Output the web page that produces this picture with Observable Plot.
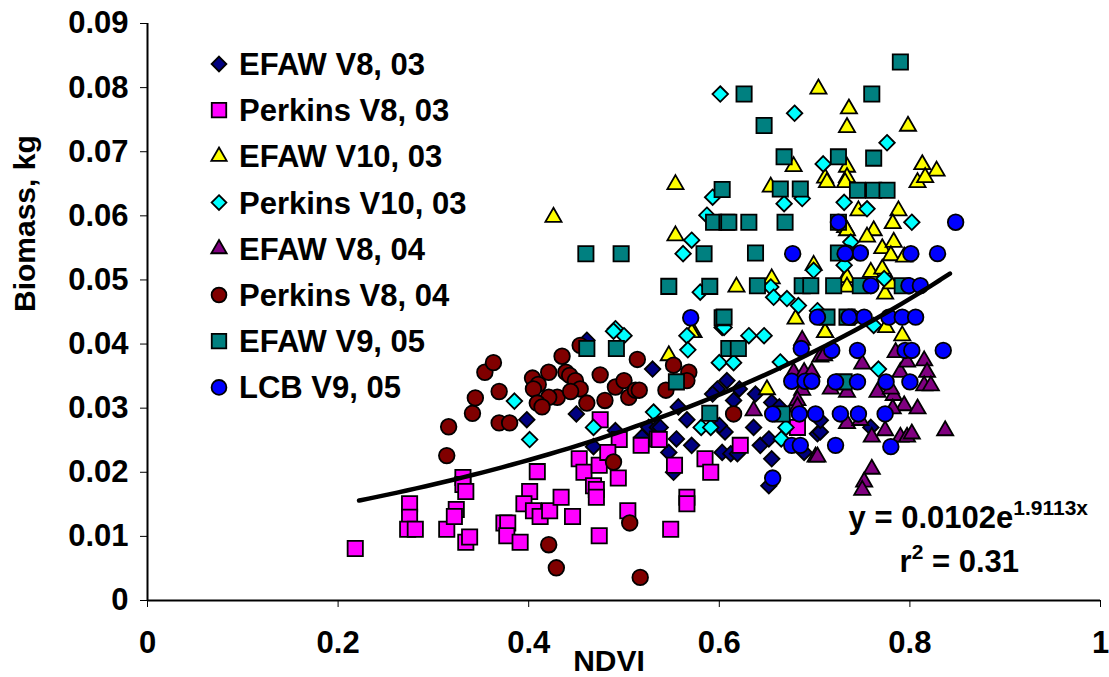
<!DOCTYPE html>
<html>
<head>
<meta charset="utf-8">
<script src="https://cdn.jsdelivr.net/npm/d3@7"></script>
<script src="https://cdn.jsdelivr.net/npm/@observablehq/plot@0.6"></script>
<style>
  html, body { margin: 0; padding: 0; background: #fff; }
  #chart { width: 1109px; height: 677px; position: relative; }
</style>
</head>
<body>
<div id="chart"></div>
<script>
// ---- data (NDVI, biomass kg) ----
const efawV8_03 = [[0.398,0.0282],[0.450,0.0291],[0.468,0.0240],[0.491,0.0265],[0.530,0.0361],[0.526,0.0270],[0.535,0.0270],[0.519,0.0255],[0.461,0.0406],[0.557,0.0302],[0.566,0.0282],[0.608,0.0343],[0.598,0.0330],[0.593,0.0322],[0.621,0.0330],[0.615,0.0312],[0.638,0.0322],[0.538,0.0270],[0.555,0.0252],[0.547,0.0231],[0.552,0.0200],[0.571,0.0242],[0.603,0.0231],[0.606,0.0263],[0.600,0.0273],[0.612,0.0229],[0.619,0.0229],[0.636,0.0270],[0.643,0.0242],[0.652,0.0252],[0.655,0.0221],[0.652,0.0179],[0.655,0.0309],[0.689,0.0231],[0.663,0.0302],[0.703,0.0260],[0.706,0.0263],[0.759,0.0270],[0.706,0.0281]];
const perkinsV8_03 = [[0.218,0.0081],[0.275,0.0151],[0.275,0.0130],[0.273,0.0111],[0.281,0.0111],[0.314,0.0111],[0.324,0.0142],[0.322,0.0131],[0.331,0.0192],[0.331,0.0181],[0.334,0.0170],[0.334,0.0091],[0.338,0.0099],[0.475,0.0282],[0.495,0.0251],[0.518,0.0242],[0.535,0.0252],[0.453,0.0221],[0.458,0.0200],[0.474,0.0211],[0.483,0.0231],[0.409,0.0201],[0.494,0.0191],[0.468,0.0179],[0.471,0.0173],[0.471,0.0161],[0.401,0.0170],[0.395,0.0151],[0.405,0.0140],[0.412,0.0131],[0.422,0.0140],[0.434,0.0161],[0.446,0.0131],[0.504,0.0140],[0.374,0.0121],[0.378,0.0121],[0.377,0.0101],[0.391,0.0091],[0.474,0.0101],[0.537,0.0251],[0.553,0.0211],[0.585,0.0221],[0.591,0.0200],[0.622,0.0242],[0.566,0.0161],[0.566,0.0151],[0.549,0.0111],[0.682,0.0270]];
const efawV10_03 = [[0.426,0.0598],[0.554,0.0649],[0.554,0.0569],[0.573,0.0418],[0.704,0.0798],[0.736,0.0767],[0.734,0.0738],[0.678,0.0677],[0.711,0.0659],[0.734,0.0676],[0.734,0.0660],[0.654,0.0645],[0.618,0.0489],[0.655,0.0502],[0.699,0.0523],[0.732,0.0582],[0.733,0.0504],[0.680,0.0439],[0.711,0.0418],[0.713,0.0652],[0.732,0.0652],[0.808,0.0652],[0.788,0.0608],[0.782,0.0588],[0.734,0.0577],[0.746,0.0608],[0.762,0.0577],[0.755,0.0567],[0.771,0.0549],[0.783,0.0559],[0.780,0.0538],[0.794,0.0536],[0.759,0.0512],[0.771,0.0517],[0.734,0.0504],[0.734,0.0489],[0.774,0.0478],[0.780,0.0494],[0.775,0.0426],[0.792,0.0413],[0.798,0.0740],[0.813,0.0680],[0.828,0.0670],[0.816,0.0660],[0.547,0.0382],[0.571,0.0418],[0.650,0.0329],[0.711,0.0418]];
const perkinsV10_03 = [[0.601,0.0790],[0.593,0.0629],[0.587,0.0601],[0.571,0.0562],[0.562,0.0541],[0.580,0.0481],[0.491,0.0424],[0.500,0.0413],[0.566,0.0413],[0.603,0.0426],[0.679,0.0760],[0.709,0.0681],[0.668,0.0619],[0.687,0.0627],[0.731,0.0621],[0.699,0.0515],[0.654,0.0489],[0.657,0.0473],[0.671,0.0471],[0.683,0.0460],[0.731,0.0523],[0.703,0.0452],[0.631,0.0413],[0.647,0.0413],[0.605,0.0426],[0.755,0.0611],[0.802,0.0590],[0.773,0.0502],[0.762,0.0429],[0.738,0.0559],[0.776,0.0714],[0.489,0.0420],[0.385,0.0311],[0.401,0.0251],[0.468,0.0270],[0.531,0.0294],[0.567,0.0391],[0.600,0.0371],[0.615,0.0371],[0.664,0.0372],[0.581,0.0270],[0.591,0.0270],[0.670,0.0270],[0.665,0.0252],[0.767,0.0361]];
const efawV8_04 = [[0.636,0.0296],[0.687,0.0406],[0.678,0.0356],[0.689,0.0356],[0.697,0.0356],[0.687,0.0328],[0.682,0.0312],[0.682,0.0302],[0.701,0.0224],[0.706,0.0380],[0.710,0.0382],[0.750,0.0369],[0.717,0.0330],[0.734,0.0325],[0.766,0.0325],[0.783,0.0320],[0.790,0.0356],[0.797,0.0372],[0.815,0.0374],[0.818,0.0356],[0.815,0.0335],[0.822,0.0335],[0.785,0.0387],[0.780,0.0330],[0.794,0.0304],[0.808,0.0299],[0.782,0.0299],[0.734,0.0276],[0.748,0.0281],[0.760,0.0255],[0.774,0.0265],[0.790,0.0255],[0.797,0.0255],[0.802,0.0260],[0.837,0.0265],[0.703,0.0224],[0.760,0.0205],[0.752,0.0185],[0.750,0.0172]];
const perkinsV8_04 = [[0.316,0.0271],[0.314,0.0226],[0.341,0.0292],[0.344,0.0316],[0.354,0.0356],[0.363,0.0371],[0.369,0.0326],[0.369,0.0277],[0.380,0.0277],[0.435,0.0381],[0.404,0.0347],[0.410,0.0337],[0.405,0.0330],[0.421,0.0356],[0.430,0.0317],[0.421,0.0317],[0.409,0.0308],[0.414,0.0302],[0.439,0.0356],[0.443,0.0351],[0.449,0.0343],[0.454,0.0330],[0.444,0.0326],[0.461,0.0308],[0.475,0.0352],[0.480,0.0312],[0.491,0.0333],[0.500,0.0343],[0.505,0.0317],[0.512,0.0328],[0.516,0.0328],[0.514,0.0376],[0.489,0.0216],[0.506,0.0121],[0.421,0.0087],[0.429,0.0051],[0.517,0.0036],[0.454,0.0398],[0.552,0.0367],[0.568,0.0356],[0.544,0.0328],[0.566,0.0343],[0.615,0.0291]];
const efawV9_05 = [[0.460,0.0541],[0.497,0.0541],[0.547,0.0490],[0.584,0.0541],[0.590,0.0490],[0.603,0.0641],[0.594,0.0590],[0.608,0.0590],[0.603,0.0441],[0.626,0.0790],[0.647,0.0741],[0.668,0.0692],[0.725,0.0692],[0.664,0.0642],[0.685,0.0642],[0.610,0.0590],[0.631,0.0590],[0.669,0.0590],[0.638,0.0542],[0.687,0.0491],[0.696,0.0491],[0.720,0.0491],[0.640,0.0491],[0.605,0.0442],[0.713,0.0442],[0.725,0.0542],[0.725,0.0590],[0.745,0.0640],[0.762,0.0640],[0.776,0.0640],[0.748,0.0491],[0.792,0.0491],[0.734,0.0442],[0.790,0.0840],[0.760,0.0790],[0.762,0.0690],[0.461,0.0393],[0.492,0.0393],[0.610,0.0393],[0.620,0.0393],[0.555,0.0341],[0.590,0.0292],[0.666,0.0291],[0.731,0.0341]];
const lcbV9_05 = [[0.686,0.0393],[0.676,0.0342],[0.690,0.0342],[0.697,0.0342],[0.656,0.0291],[0.684,0.0291],[0.701,0.0291],[0.676,0.0242],[0.685,0.0242],[0.656,0.0191],[0.718,0.0390],[0.745,0.0390],[0.795,0.0390],[0.802,0.0390],[0.835,0.0390],[0.722,0.0341],[0.745,0.0341],[0.775,0.0341],[0.800,0.0341],[0.727,0.0291],[0.746,0.0291],[0.774,0.0291],[0.722,0.0242],[0.780,0.0240],[0.848,0.0590],[0.801,0.0541],[0.829,0.0541],[0.734,0.0542],[0.748,0.0542],[0.759,0.0491],[0.799,0.0491],[0.811,0.0491],[0.739,0.0442],[0.752,0.0442],[0.778,0.0442],[0.792,0.0442],[0.806,0.0442],[0.725,0.0590],[0.677,0.0541],[0.732,0.0541],[0.703,0.0442],[0.736,0.0442],[0.570,0.0441]];

const seriesNames = ["EFAW V8, 03","Perkins V8, 03","EFAW V10, 03","Perkins V10, 03","EFAW V8, 04","Perkins V8, 04","EFAW V9, 05","LCB V9, 05"];
const seriesData = [efawV8_03, perkinsV8_03, efawV10_03, perkinsV10_03, efawV8_04, perkinsV8_04, efawV9_05, lcbV9_05];
const seriesColors = ["#000080","#FF00FF","#FFFF00","#00FFFF","#800080","#800000","#008080","#0000FF"];
const seriesSymbols = ["diamond2","square","triangle","diamond2","triangle","circle","square","circle"];
const seriesRadii = [7.0, 8.6, 6.0, 7.0, 6.0, 7.8, 8.6, 7.8];

const xTicks = [0, 0.2, 0.4, 0.6, 0.8, 1];
const yTicks = [0, 0.01, 0.02, 0.03, 0.04, 0.05, 0.06, 0.07, 0.08, 0.09];

// trend line given by the chart's equation y = a e^(b x)
const trendA = 0.0102, trendB = 1.9113, trendRange = [0.222, 0.85];
const trendX = d3.range(trendRange[0], trendRange[1] + 1e-9, 0.01);
const trend = trendX.map(x => ({x, y: trendA * Math.exp(trendB * x)}));

const FONT = "'Liberation Sans', Arial, sans-serif";
const FS = 31;

const dotMarks = seriesData.map((data, i) =>
  Plot.dot(data, {x: d => d[0], y: d => d[1], symbol: seriesSymbols[i], r: seriesRadii[i],
    fill: seriesColors[i], stroke: "black", strokeWidth: 1.8})
);

const plot = Plot.plot({
  width: 1109, height: 677,
  marginLeft: 147, marginRight: 9, marginTop: 23, marginBottom: 77,
  style: {fontFamily: FONT, fontSize: FS + "px", fontWeight: "bold", color: "black", background: "white", overflow: "visible"},
  x: {domain: [0, 1], ticks: xTicks, tickFormat: d => String(+d.toFixed(1)), tickSize: 7, tickPadding: 23, label: null},
  y: {domain: [0, 0.09], ticks: yTicks, tickFormat: d => String(+d.toFixed(2)), tickSize: 7, tickPadding: 12, label: null},
  marks: [
    ...dotMarks,
    Plot.line(trend, {x: "x", y: "y", stroke: "black", strokeWidth: 4.5, curve: "basis"}),
    Plot.ruleX([0], {stroke: "black", strokeWidth: 2}),
    Plot.ruleY([0], {stroke: "black", strokeWidth: 2}),
    Plot.text(["NDVI"], {frameAnchor: "bottom", dy: 70, dx: -15, fontSize: 30, fontWeight: "bold"}),
    Plot.text(["Biomass, kg"], {frameAnchor: "left", dx: -122, rotate: -90, fontSize: 30, fontWeight: "bold"})
  ]
});
document.getElementById("chart").appendChild(plot);

const svg = d3.select(plot);
// legend
const leg = svg.append("g").attr("font-family", FONT).attr("font-weight", "bold").attr("font-size", FS).attr("text-anchor", "start");
seriesNames.forEach((name, i) => {
  const y = 64 + i * 46.2;
  const symName = seriesSymbols[i];
  const sym = {diamond2: d3.symbolDiamond2, square: d3.symbolSquare, triangle: d3.symbolTriangle, circle: d3.symbolCircle}[symName];
  const r = seriesRadii[i] * 0.95;
  leg.append("path").attr("transform", `translate(219,${y})`)
    .attr("d", d3.symbol(sym, r * r * Math.PI)())
    .attr("fill", seriesColors[i]).attr("stroke", "black").attr("stroke-width", 1.8);
  leg.append("text").attr("x", 239).attr("y", y + 11).attr("text-anchor", "start").text(name);
});
// equation
const eq = svg.append("g").attr("font-family", FONT).attr("font-weight", "bold").attr("font-size", FS).attr("text-anchor", "end");
const t1 = eq.append("text").attr("x", 1088).attr("y", 528).attr("text-anchor", "end");
t1.append("tspan").text("y = 0.0102e");
t1.append("tspan").attr("font-size", 21).attr("dy", -13).text("1.9113x");
const t2 = eq.append("text").attr("x", 1019).attr("y", 572).attr("text-anchor", "end");
t2.append("tspan").text("r");
t2.append("tspan").attr("font-size", 21).attr("dy", -13).text("2");
t2.append("tspan").attr("dy", 13).text(" = 0.31");
</script>
</body>
</html>
